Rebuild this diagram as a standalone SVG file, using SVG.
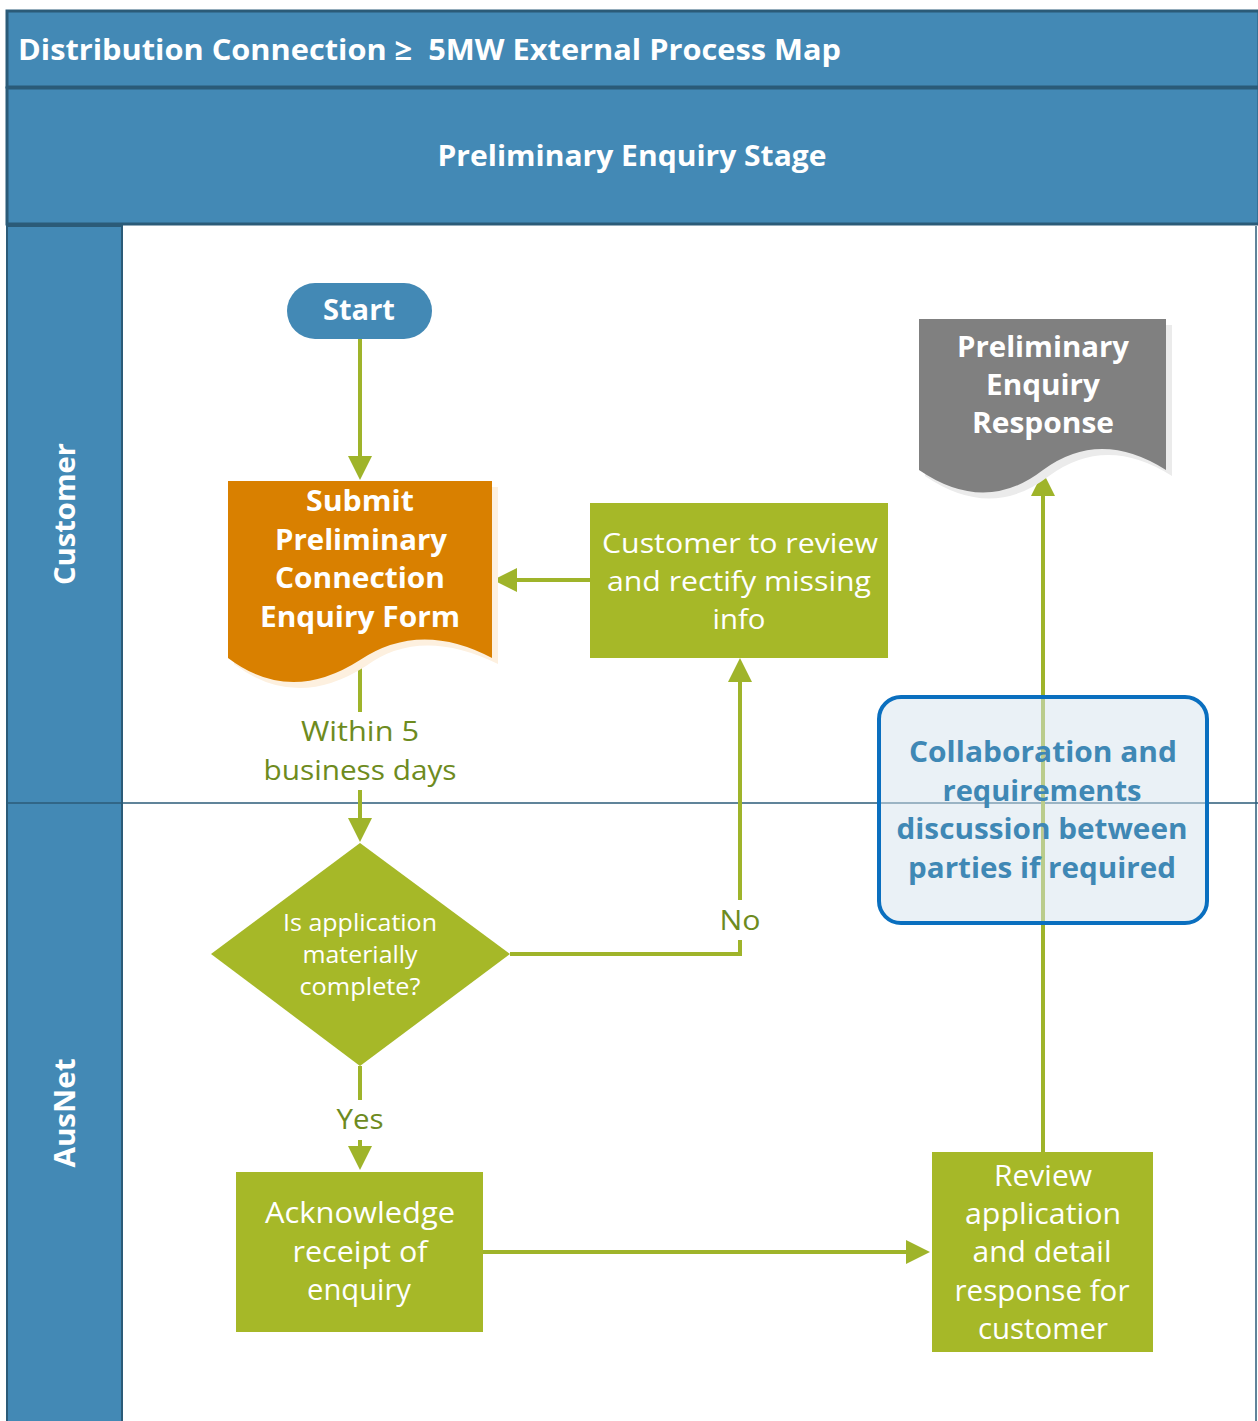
<svg xmlns="http://www.w3.org/2000/svg" width="1258" height="1421" viewBox="0 0 1258 1421">
<defs>
<style>
.hdr{fill:#4389b5;stroke:#2b5b78;stroke-width:3}
.wt{fill:#fff;font-family:"Open Sans","Noto Sans",sans-serif}
.b{font-weight:bold}
.gr{fill:#a6b828}
.con{fill:none;stroke:#9fb42a;stroke-width:4}
.lbl{fill:#6e8b1e;font-family:"Open Sans","Noto Sans",sans-serif;font-size:28px;text-anchor:middle}
.c{text-anchor:middle}
</style>
<marker id="ah" markerUnits="userSpaceOnUse" markerWidth="24" markerHeight="24" viewBox="0 0 24 24" refX="20" refY="12" orient="auto">
<path d="M0,0 L24,12 L0,24 Z" fill="#9fb42a"/>
</marker>
</defs>

<g id="frame">
<rect x="0" y="0" width="1258" height="1421" fill="#fff"/>
<rect class="hdr" x="7" y="11" width="1252" height="76"/>
<rect class="hdr" x="7" y="88" width="1252" height="136"/>
<rect x="7" y="226" width="115" height="1200" fill="#4389b5" stroke="#2b5b78" stroke-width="2"/>
<line x1="1256" y1="226" x2="1256" y2="1421" stroke="#2b5b78" stroke-width="1.5"/>
<line x1="6" y1="803" x2="1258" y2="803" stroke="#2b5b78" stroke-width="1.4"/>
<text class="wt b" x="18" y="60" font-size="29" xml:space="preserve" style="white-space:pre" textLength="823" lengthAdjust="spacingAndGlyphs">Distribution Connection ≥  5MW External Process Map</text>
<text class="wt b c" x="632" y="166" font-size="29" textLength="389" lengthAdjust="spacingAndGlyphs">Preliminary Enquiry Stage</text>
<text class="wt b c" transform="translate(75,514) rotate(-90)" font-size="29" textLength="142" lengthAdjust="spacingAndGlyphs">Customer</text>
<text class="wt b c" transform="translate(75,1113) rotate(-90)" font-size="29" textLength="109" lengthAdjust="spacingAndGlyphs">AusNet</text>
</g>

<g id="connectors">
<path class="con" d="M360,339 V476" marker-end="url(#ah)"/>
<path class="con" d="M590,580 H497" marker-end="url(#ah)"/>
<path class="con" d="M360,660 V712 M360,790 V838" marker-end="url(#ah)"/>
<path class="con" d="M510,954 H740 V940 M740,900 V662" marker-end="url(#ah)"/>
<path class="con" d="M360,1066 V1100 M360,1140 V1166" marker-end="url(#ah)"/>
<path class="con" d="M483,1252 H926" marker-end="url(#ah)"/>
<path class="con" d="M1043,1152 V476" marker-end="url(#ah)"/>
<text class="lbl" x="360" y="741" textLength="118" lengthAdjust="spacingAndGlyphs">Within 5</text>
<text class="lbl" x="360" y="780" textLength="193" lengthAdjust="spacingAndGlyphs">business days</text>
<text class="lbl" x="740" y="930" textLength="41" lengthAdjust="spacingAndGlyphs">No</text>
<text class="lbl" x="360" y="1129" textLength="47" lengthAdjust="spacingAndGlyphs">Yes</text>
</g>

<g id="start">
<rect x="287" y="283" width="145" height="56" rx="28" fill="#4389b5"/>
<text class="wt b c" x="359" y="320" font-size="29" textLength="72" lengthAdjust="spacingAndGlyphs">Start</text>
</g>

<g id="submit-form">
<path d="M234,487 H498 V664 Q420,626 366,666 Q296,711 234,664 Z" fill="#fdf0df"/>
<path d="M228,481 H492 V658 Q420,620 360,660 Q290,705 228,658 Z" fill="#d98000"/>
<text class="wt b c" x="360" y="511" font-size="29" textLength="108" lengthAdjust="spacingAndGlyphs">Submit</text>
<text class="wt b c" x="361" y="550" font-size="29" textLength="172" lengthAdjust="spacingAndGlyphs">Preliminary</text>
<text class="wt b c" x="360" y="588" font-size="29" textLength="170" lengthAdjust="spacingAndGlyphs">Connection</text>
<text class="wt b c" x="360" y="627" font-size="29" textLength="200" lengthAdjust="spacingAndGlyphs">Enquiry Form</text>
</g>

<g id="customer-review">
<rect class="gr" x="590" y="503" width="298" height="155"/>
<text class="wt c" x="740" y="553" font-size="28" textLength="276" lengthAdjust="spacingAndGlyphs">Customer to review</text>
<text class="wt c" x="739" y="591" font-size="28" textLength="264" lengthAdjust="spacingAndGlyphs">and rectify missing</text>
<text class="wt c" x="739" y="629" font-size="28" textLength="53" lengthAdjust="spacingAndGlyphs">info</text>
</g>

<g id="response-doc">
<path d="M925,325 H1172 V476 Q1106,434 1049,476 Q991,521 925,476 Z" fill="#ebebeb"/>
<path d="M919,319 H1166 V470 Q1100,428 1043,470 Q985,515 919,470 Z" fill="#808080"/>
<text class="wt b c" x="1043" y="357" font-size="29" textLength="172" lengthAdjust="spacingAndGlyphs">Preliminary</text>
<text class="wt b c" x="1043" y="395" font-size="29" textLength="114" lengthAdjust="spacingAndGlyphs">Enquiry</text>
<text class="wt b c" x="1043" y="433" font-size="29" textLength="142" lengthAdjust="spacingAndGlyphs">Response</text>
</g>

<g id="collaboration">
<rect x="879" y="697" width="328" height="226" rx="22" fill="#d5e3ed" fill-opacity="0.5" stroke="#0a6fbf" stroke-width="4"/>
<text class="b c" x="1043" y="762" font-size="29" fill="#3f88b5" font-family="Open Sans, Noto Sans, sans-serif" textLength="268" lengthAdjust="spacingAndGlyphs">Collaboration and</text>
<text class="b c" x="1042" y="801" font-size="29" fill="#3f88b5" font-family="Open Sans, Noto Sans, sans-serif" textLength="199" lengthAdjust="spacingAndGlyphs">requirements</text>
<text class="b c" x="1042" y="839" font-size="29" fill="#3f88b5" font-family="Open Sans, Noto Sans, sans-serif" textLength="291" lengthAdjust="spacingAndGlyphs">discussion between</text>
<text class="b c" x="1042" y="878" font-size="29" fill="#3f88b5" font-family="Open Sans, Noto Sans, sans-serif" textLength="268" lengthAdjust="spacingAndGlyphs">parties if required</text>
</g>

<g id="decision">
<path class="gr" d="M360,843 L510,954 L360,1066 L211,954 Z"/>
<text class="wt c" x="360" y="931" font-size="24" textLength="154" lengthAdjust="spacingAndGlyphs">Is application</text>
<text class="wt c" x="360" y="963" font-size="24" textLength="115" lengthAdjust="spacingAndGlyphs">materially</text>
<text class="wt c" x="360" y="995" font-size="24" textLength="121" lengthAdjust="spacingAndGlyphs">complete?</text>
</g>

<g id="acknowledge">
<rect class="gr" x="236" y="1172" width="247" height="160"/>
<text class="wt c" x="360" y="1223" font-size="29" textLength="190" lengthAdjust="spacingAndGlyphs">Acknowledge</text>
<text class="wt c" x="360" y="1262" font-size="29" textLength="135" lengthAdjust="spacingAndGlyphs">receipt of</text>
<text class="wt c" x="359" y="1300" font-size="29" textLength="104" lengthAdjust="spacingAndGlyphs">enquiry</text>
</g>

<g id="review">
<rect class="gr" x="932" y="1152" width="221" height="200"/>
<text class="wt c" x="1043" y="1186" font-size="29" textLength="98" lengthAdjust="spacingAndGlyphs">Review</text>
<text class="wt c" x="1043" y="1224" font-size="29" textLength="156" lengthAdjust="spacingAndGlyphs">application</text>
<text class="wt c" x="1042" y="1262" font-size="29" textLength="139" lengthAdjust="spacingAndGlyphs">and detail</text>
<text class="wt c" x="1042" y="1301" font-size="29" textLength="175" lengthAdjust="spacingAndGlyphs">response for</text>
<text class="wt c" x="1043" y="1339" font-size="29" textLength="130" lengthAdjust="spacingAndGlyphs">customer</text>
</g>
</svg>
